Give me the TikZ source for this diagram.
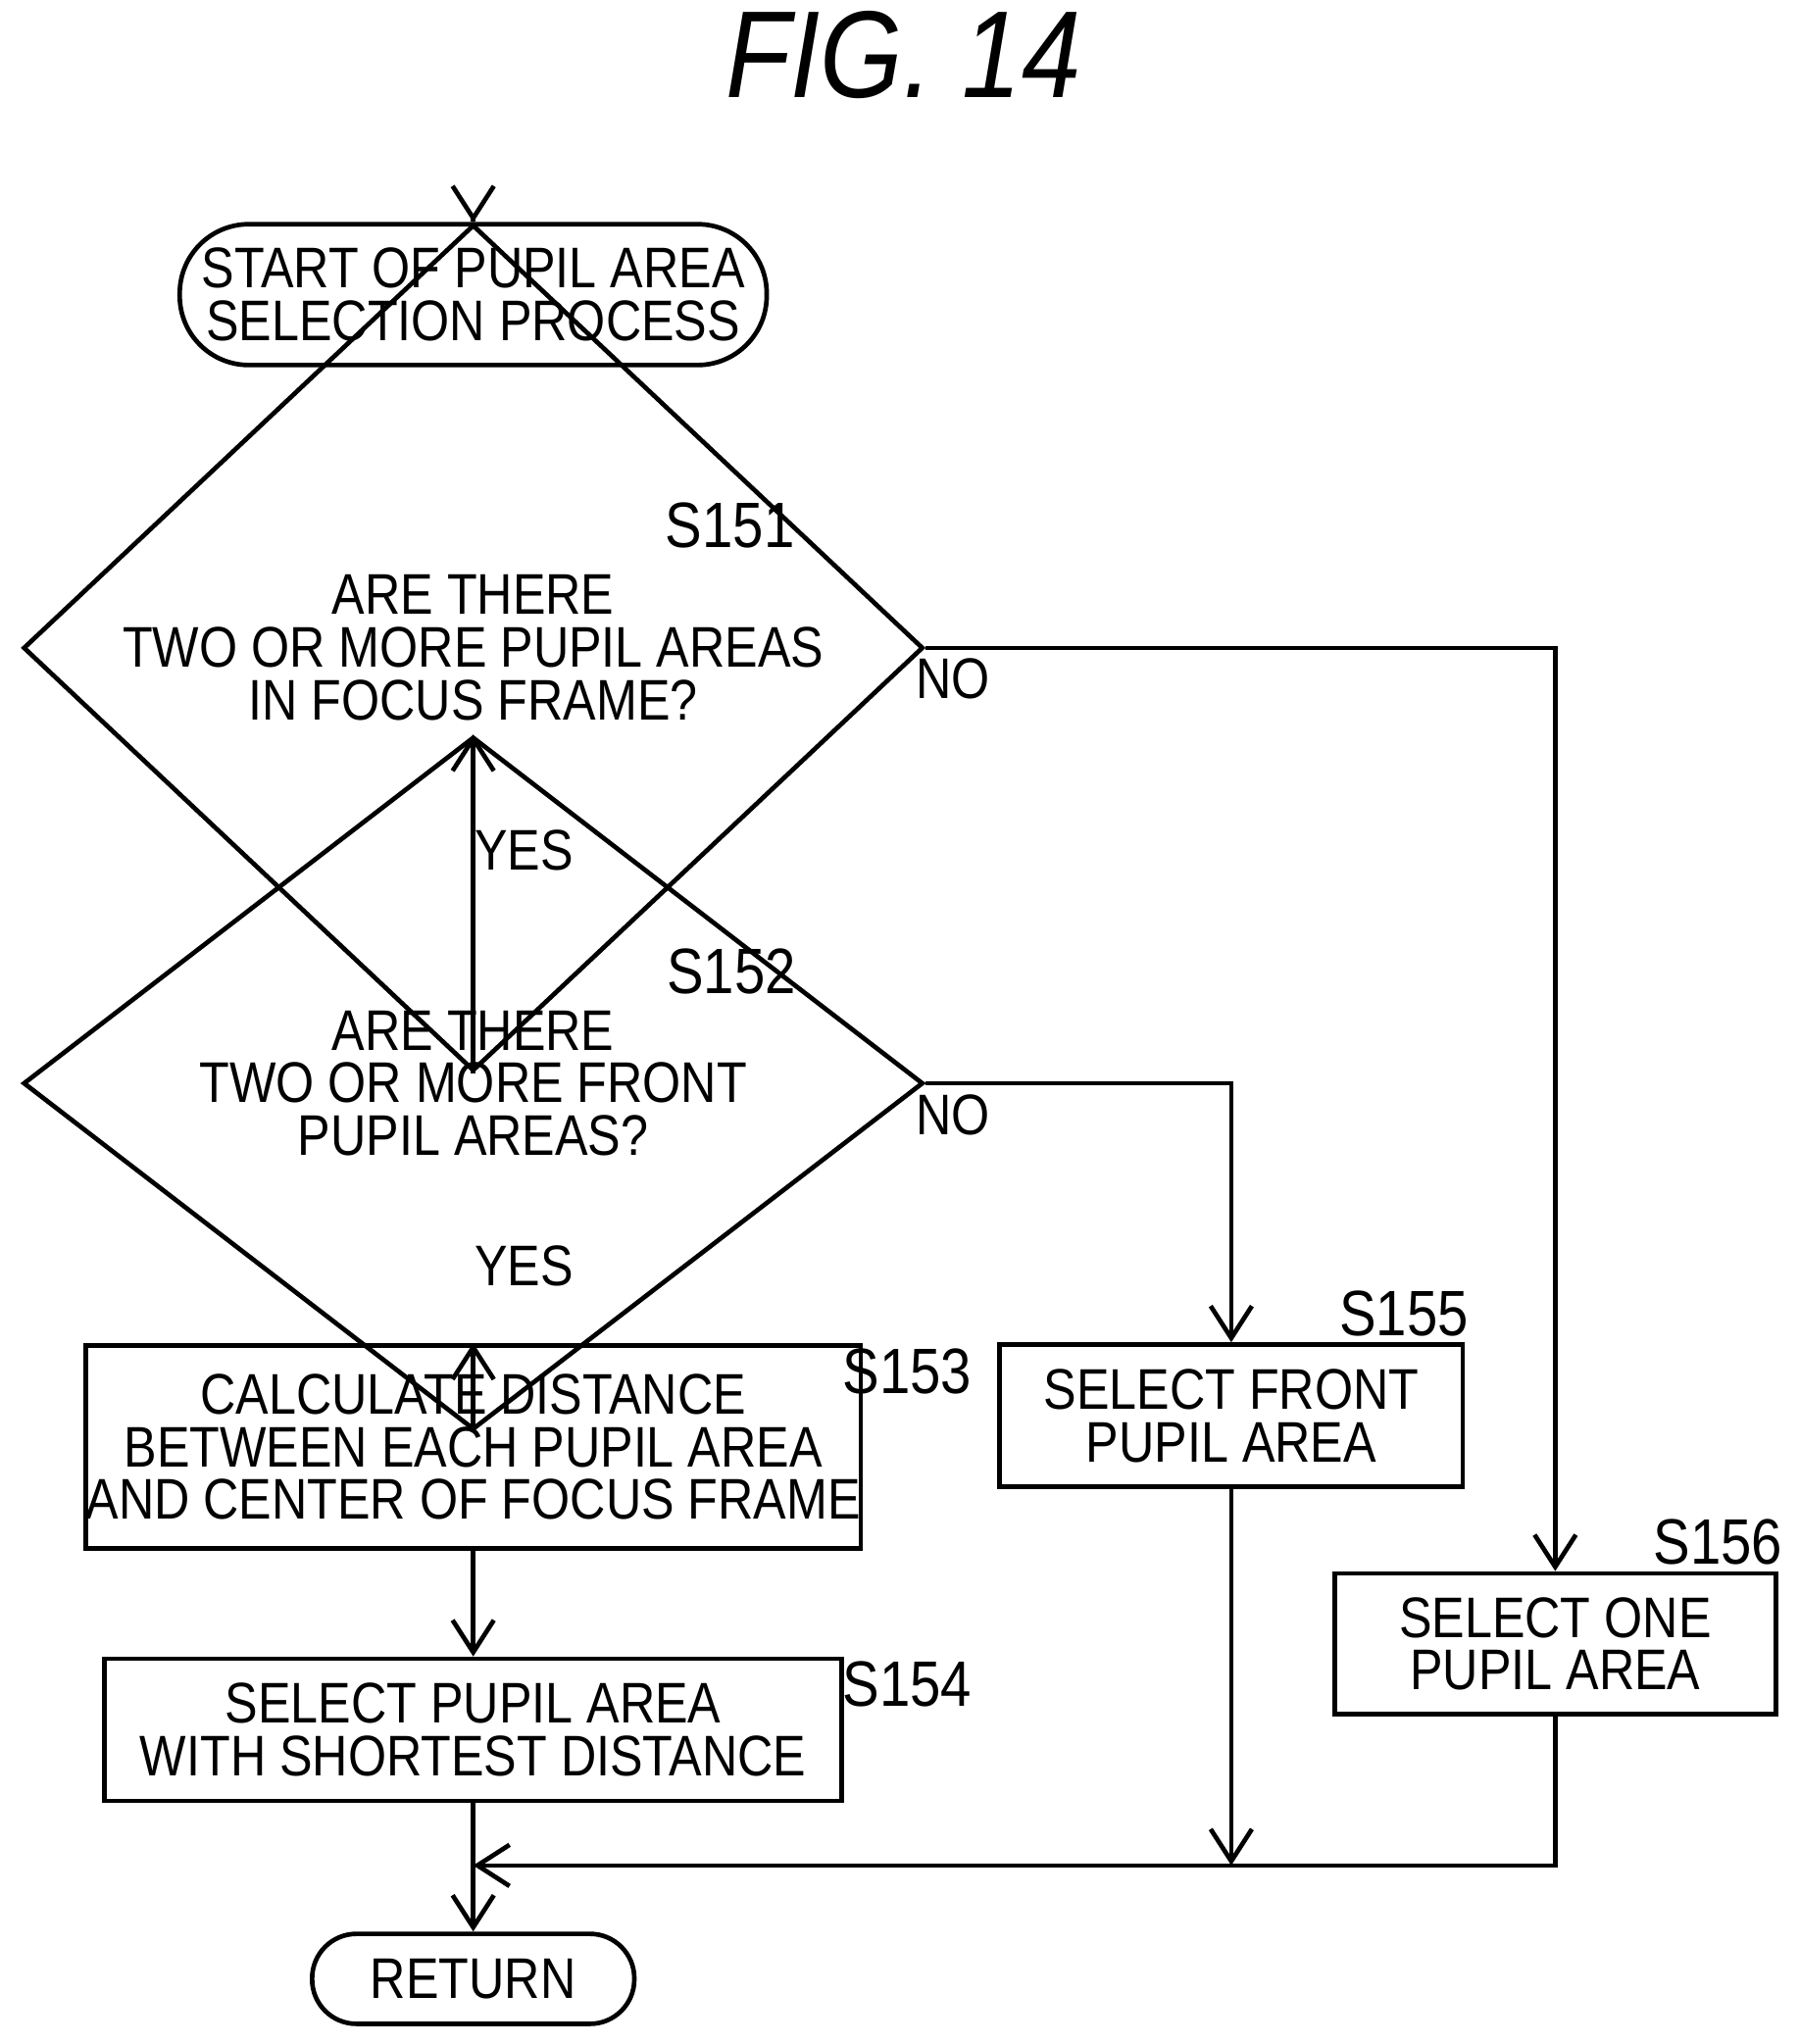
\documentclass[tikz,border=0pt]{standalone}
\usepackage{fontspec}
\setmainfont[FakeStretch=0.86]{Liberation Sans}
\usetikzlibrary{positioning,shapes.geometric,arrows.meta}

\begin{document}
\begin{tikzpicture}[
        x=0.01cm, y=-0.01cm,
        every node/.style={font=\fontsize{12.5}{13.5}\selectfont, align=center},
        terminal/.style={rectangle, rounded corners=0.53cm, draw, line width=1pt, inner sep=0pt},
        decision/.style={diamond, draw, line width=1pt, minimum width=6.9cm, minimum height=2.62cm, inner sep=0pt},
        process/.style={rectangle, draw, line width=1pt, inner sep=0pt},
        step label/.style={font=\fontsize{14}{15}\selectfont},
        flow/.style={-{Straight Barb[length=7pt,width=9pt]}, line width=1pt}
    ]
        \useasboundingbox (0,0) rectangle (1380,1568);

        % Title
        \node[font=\fontsize{27}{28}\selectfont\itshape] (title) at (693,42) {FIG. 14};

        % Nodes
        \node[terminal, minimum width=4.5cm, minimum height=1.08cm] (start) at (363,226) {START OF PUPIL AREA\\[-2pt]SELECTION PROCESS};
        \node[decision] (d1) at (363,497) {ARE THERE\\[-2pt]TWO OR MORE PUPIL AREAS\\[-2pt]IN FOCUS FRAME?};
        \node[decision, minimum height=2.32cm] (d2) at (363,831) {ARE THERE\\[-2pt]TWO OR MORE FRONT\\[-2pt]PUPIL AREAS?};
        \node[process, minimum width=5.65cm, minimum height=1.56cm] (calc) at (363,1110) {CALCULATE DISTANCE\\[-2pt]BETWEEN EACH PUPIL AREA\\[-2pt]AND CENTER OF FOCUS FRAME};
        \node[process, minimum width=5.65cm, minimum height=1.09cm] (shortest) at (363,1327) {SELECT PUPIL AREA\\[-2pt]WITH SHORTEST DISTANCE};
        \node[process, minimum width=3.55cm, minimum height=1.09cm] (front) at (944.5,1086) {SELECT FRONT\\[-2pt]PUPIL AREA};
        \node[process, minimum width=3.38cm, minimum height=1.08cm] (one) at (1193,1261) {SELECT ONE\\[-2pt]PUPIL AREA};
        \node[terminal, minimum width=2.47cm, minimum height=0.69cm, rounded corners=0.34cm] (ret) at (363,1518) {RETURN};
        \coordinate (merge) at (363,1431);

        % Step labels
        \node[step label] at (560,403) {S151};
        \node[step label] at (561,745) {S152};
        \node[step label] at (696,1052) {S153};
        \node[step label] at (696,1292) {S154};
        \node[step label] at (1077,1008) {S155};
        \node[step label] at (1318,1183) {S156};
        \node at (731,521) {NO};
        \node at (402,652) {YES};
        \node at (731,855) {NO};
        \node at (402,971) {YES};

        % Connections
        \draw[flow] (start) -- (d1);
        \draw[flow] (d1) -- (d2);
        \draw[flow] (d2) -- (calc);
        \draw[flow] (calc) -- (shortest);
        \draw[flow] (d1.east) -| (one.north);
        \draw[flow] (d2.east) -| (front.north);
        \draw[flow] (front.south) -- (front.south |- merge);
        \draw[flow] (one.south) |- (merge);
        \draw[line width=1pt] (shortest) -- (merge);
        \draw[flow] (merge) -- (ret);
\end{tikzpicture}
\end{document}
